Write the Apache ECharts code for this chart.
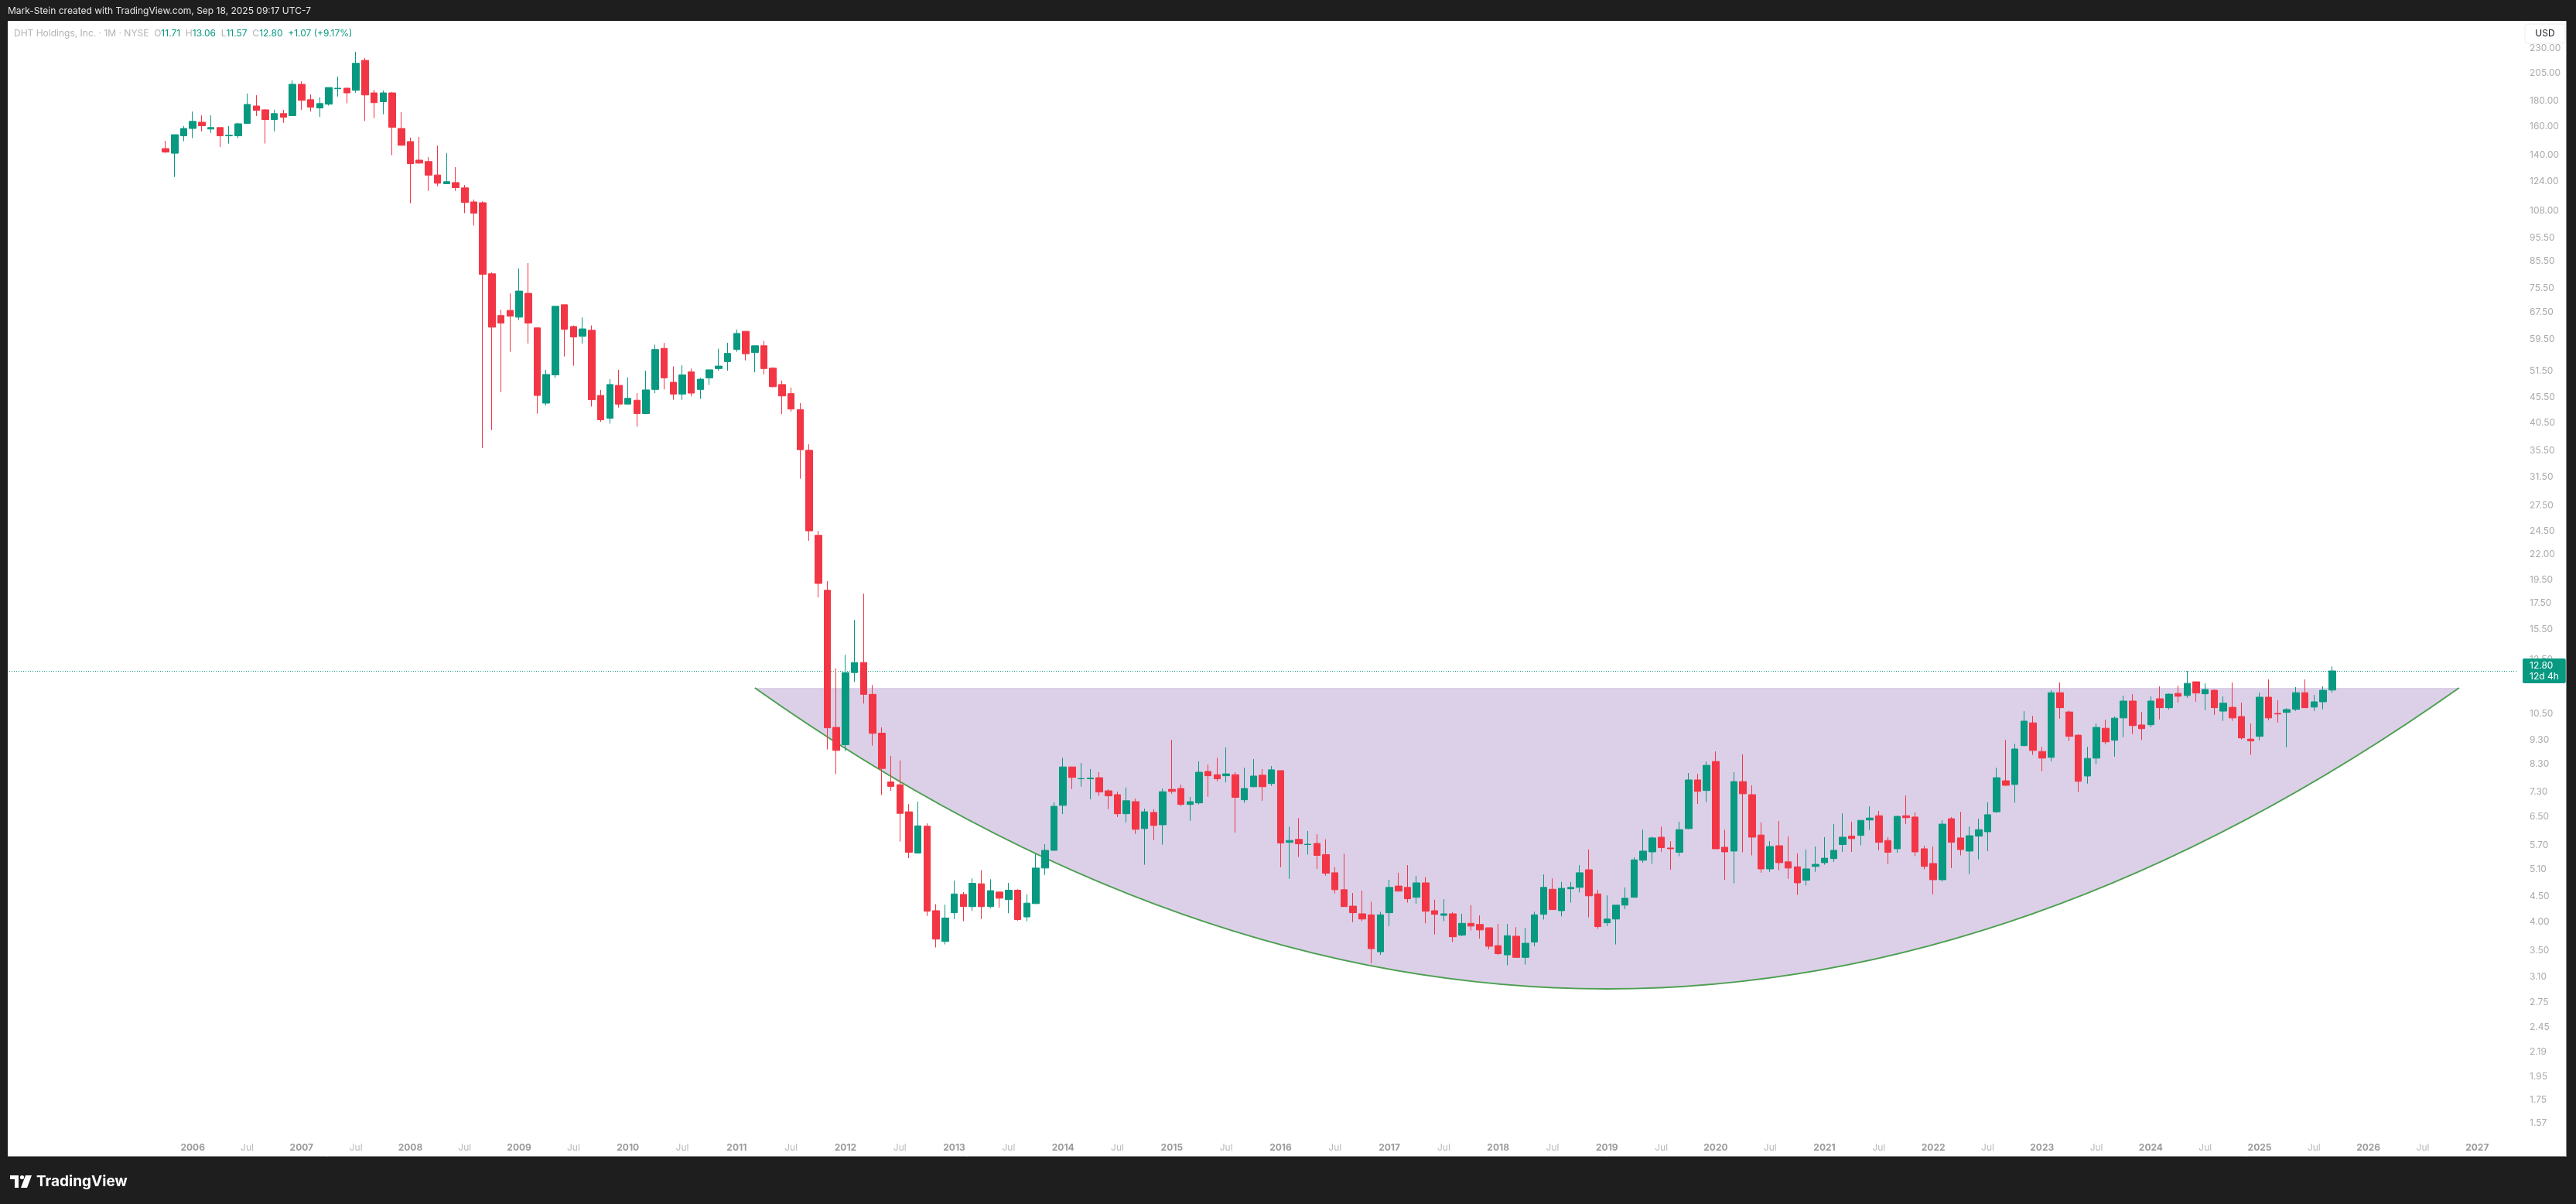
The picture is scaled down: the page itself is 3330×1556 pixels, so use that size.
<!DOCTYPE html>
<html><head><meta charset="utf-8">
<script src="https://cdn.jsdelivr.net/npm/echarts@6/dist/echarts.min.js"></script>
<style>html,body{margin:0;padding:0;background:#1e1e1e;}#c{width:3330px;height:1556px;}</style>
</head><body><div id="c"></div>
<script>
// ---------- data ----------
const axisStart = '2004-05';
const axisEnd = '2027-05';
const candleStart = '2005-10';
const candleEnd = '2025-09';
// monthly candles: [open, high, low, close]
const ohlc = [
[144.2,149.5,141.3,141.9],[141.1,153.8,126.4,153.8],[153.0,160.1,149.2,158.3],
[158.3,171.2,151.3,163.6],[163.0,168.2,156.2,160.3],[157.9,168.2,155.1,159.0],[159.0,159.0,145.2,153.0],[153.0,160.1,147.6,153.4],[153.0,162.5,151.3,161.8],[162.1,186.2,162.1,177.0],[175.7,184.7,167.7,172.1],[172.6,173.1,147.6,165.0],[165.0,172.6,156.2,169.6],[169.6,172.6,162.5,166.8],[168.0,197.8,168.0,194.3],
[194.3,197.0,172.6,180.4],[180.9,185.4,171.2,174.8],[174.1,182.9,167.0,177.7],[177.2,191.4,176.0,191.4],[190.3,201.3,183.6,190.8],[190.8,191.4,177.9,186.7],[189.0,225.9,186.9,214.2],[217.1,219.5,163.9,184.9],[186.7,189.5,166.1,178.4],[179.2,188.8,169.1,186.7],[186.7,187.5,139.9,159.2],[158.3,170.7,146.4,146.4],
[149.0,151.7,111.9,134.5],[136.7,152.2,134.5,134.8],[135.8,138.6,118.5,127.5],[127.6,146.2,121.2,122.8],[122.5,141.3,122.5,123.7],[123.2,132.3,118.5,120.3],[120.2,121.8,106.9,112.3],[112.6,113.9,100.9,106.9],[112.2,112.9,36.0,80.5],[80.7,81.2,39.1,63.0],[66.5,68.3,46.6,64.2],[68.1,73.7,56.2,66.3],
[66.0,82.7,65.1,74.5],[73.7,84.8,58.4,64.2],[62.8,63.0,42.2,45.9],[44.3,51.7,43.8,50.6],[50.5,69.4,49.8,69.4],[69.9,69.9,55.0,62.4],[63.2,63.5,52.7,60.2],[60.4,65.9,58.3,62.5],[62.1,63.5,43.6,45.0],[45.9,47.1,40.6,41.0],[41.3,49.5,40.3,48.3],[48.1,51.7,43.4,44.1],
[44.1,49.9,44.1,45.3],[44.9,46.4,39.7,42.2],[42.2,51.5,42.2,47.1],[47.2,58.1,46.4,56.8],[57.1,58.6,47.2,49.8],[48.8,52.5,45.0,46.2],[46.2,52.8,45.0,50.5],[51.2,52.0,45.7,46.4],[47.2,49.8,45.2,49.5],[49.8,51.7,48.2,51.7],[52.0,57.0,51.5,52.6],[53.7,58.6,51.5,55.8],
[56.8,62.3,56.2,61.2],[61.8,61.8,54.0,55.7],[56.0,57.8,51.1,57.8],[57.8,59.1,50.6,52.0],[52.1,52.3,47.7,47.8],[48.3,49.2,42.1,45.8],[46.3,47.6,42.6,43.1],[43.0,44.3,31.2,35.7],[35.6,36.6,23.4,24.5],[24.0,24.5,18.0,19.2],[18.6,19.4,8.89,9.83],[9.85,12.95,7.93,8.85],
[9.09,13.79,8.82,12.70],[12.70,16.21,12.16,13.31],[13.31,18.31,11.00,11.48],[11.48,11.99,9.05,9.58],[9.59,9.85,7.20,8.14],[7.65,8.63,7.34,7.49],[7.55,8.45,5.80,6.61],[6.66,6.90,5.37,5.52],[5.50,6.98,5.50,6.24],[6.23,6.31,4.11,4.20],[4.21,4.34,3.55,3.69],[3.65,4.33,3.60,4.07],
[4.17,4.84,4.05,4.55],[4.54,4.59,4.01,4.29],[4.29,4.89,4.21,4.78],[4.77,5.08,4.05,4.29],[4.29,4.87,4.26,4.62],[4.59,4.59,4.27,4.46],[4.43,4.79,4.16,4.63],[4.63,4.65,4.02,4.04],[4.09,4.54,4.01,4.36],[4.35,5.49,4.35,5.13],[5.13,5.73,4.97,5.57],[5.57,6.96,5.57,6.83],
[6.86,8.56,6.59,8.20],[8.20,8.20,7.40,7.81],[7.76,8.35,7.48,7.77],[7.76,8.12,7.06,7.79],[7.80,8.00,7.17,7.30],[7.34,7.39,6.74,7.17],[7.21,7.31,6.50,6.60],[6.60,7.45,6.34,7.01],[6.98,7.08,6.01,6.14],[6.16,6.76,5.21,6.66],[6.64,6.74,5.84,6.25],[6.27,7.42,5.72,7.31],
[7.39,9.30,7.24,7.32],[7.42,7.55,6.84,6.89],[6.89,7.13,6.39,6.98],[6.94,8.41,6.89,8.00],[8.03,8.29,7.14,7.87],[7.91,8.56,7.67,7.76],[7.87,8.97,7.64,7.94],[7.91,8.00,6.05,7.12],[7.04,8.17,6.94,7.42],[7.48,8.50,7.46,7.86],[7.89,8.12,7.01,7.48],[7.59,8.23,7.51,8.09],
[8.06,8.06,5.15,5.76],[5.78,6.22,4.88,5.83],[5.86,6.47,5.40,5.74],[5.72,6.09,5.46,5.73],[5.75,6.00,5.11,5.44],[5.46,5.86,4.95,5.01],[5.02,5.15,4.56,4.64],[4.64,5.48,4.29,4.29],[4.30,4.57,3.99,4.17],[4.15,4.62,4.01,4.05],[4.13,4.39,3.30,3.53],[3.48,4.19,3.43,4.13],
[4.17,4.86,3.92,4.69],[4.72,5.02,4.61,4.61],[4.69,5.20,4.37,4.45],[4.48,4.95,4.35,4.79],[4.79,4.92,3.97,4.20],[4.21,4.43,3.77,4.14],[4.12,4.44,4.01,4.15],[4.15,4.18,3.64,3.73],[3.76,4.15,3.74,3.97],[3.97,4.32,3.84,3.92],[3.95,4.12,3.70,3.85],[3.89,3.89,3.52,3.57],
[3.58,3.96,3.43,3.45],[3.43,3.96,3.27,3.75],[3.74,3.90,3.39,3.39],[3.39,3.89,3.28,3.62],[3.64,4.19,3.57,4.13],[4.14,4.98,4.04,4.69],[4.65,4.89,4.23,4.23],[4.21,4.81,4.10,4.67],[4.66,4.81,4.37,4.69],[4.69,5.20,4.58,5.02],[5.09,5.59,4.08,4.51],[4.55,4.64,3.87,3.91],
[3.98,4.52,3.92,4.05],[4.05,4.32,3.60,4.32],[4.32,4.69,4.24,4.46],[4.48,5.39,4.48,5.33],[5.32,6.13,5.26,5.55],[5.53,5.94,5.23,5.90],[5.92,6.22,5.53,5.64],[5.63,5.81,5.09,5.61],[5.52,6.36,5.42,6.13],[6.16,7.97,6.14,7.72],[7.72,7.94,6.91,7.32],[7.35,8.41,6.96,8.26],
[8.41,8.81,5.61,5.61],[5.65,6.13,4.86,5.53],[5.55,8.00,4.78,7.66],[7.66,8.69,5.52,7.24],[7.21,7.53,5.44,5.92],[5.98,6.34,5.02,5.11],[5.11,5.81,5.04,5.67],[5.69,6.38,5.08,5.26],[5.28,5.94,4.88,5.13],[5.16,5.49,4.53,4.79],[4.85,5.59,4.73,5.11],[5.17,5.67,5.04,5.22],
[5.26,5.92,5.21,5.37],[5.36,6.29,5.28,5.57],[5.72,6.61,5.53,5.92],[5.95,6.36,5.53,5.88],[5.97,6.40,5.70,6.40],[6.41,6.83,6.12,6.47],[6.54,6.69,5.57,5.78],[5.83,5.92,5.23,5.52],[5.61,6.54,5.51,6.52],[6.54,7.18,6.29,6.48],[6.50,6.64,5.42,5.53],[5.61,5.69,5.10,5.17],
[5.24,5.67,4.54,4.86],[4.86,6.40,4.82,6.29],[6.45,6.50,5.13,5.78],[5.90,6.66,5.44,5.59],[5.55,6.22,4.99,5.96],[5.95,6.45,5.34,6.13],[6.07,6.96,5.55,6.57],[6.66,8.17,6.62,7.80],[7.69,9.30,7.51,7.53],[7.56,9.13,6.95,8.91],[9.05,10.62,9.02,10.14],[10.06,10.39,8.67,8.85],
[8.81,9.00,8.04,8.54],[8.57,11.70,8.42,11.57],[11.57,12.13,10.26,10.79],[10.58,10.66,9.25,9.45],[9.50,9.54,7.30,7.67],[7.86,9.00,7.59,8.53],[8.54,10.03,8.30,9.85],[9.81,10.21,9.11,9.21],[9.28,10.36,8.60,10.28],[10.29,11.41,9.41,11.13],[11.13,11.49,9.55,9.93],[9.96,10.58,9.28,9.79],
[9.97,11.37,9.86,11.13],[11.25,11.91,10.22,10.79],[10.79,11.53,10.70,11.49],[11.53,11.95,11.05,11.38],[11.42,12.80,11.30,12.08],[12.17,12.17,11.10,11.55],[11.51,12.08,10.67,11.74],[11.70,11.74,10.44,10.79],[10.62,11.37,10.15,11.02],[10.81,12.13,10.15,10.29],[10.36,11.05,9.31,9.38],[9.33,10.03,8.67,9.25],
[9.45,11.57,9.28,11.33],[11.33,12.30,10.18,10.29],[10.51,11.17,10.07,10.48],[10.56,10.77,8.98,10.70],[10.71,11.87,10.63,11.57],[11.57,12.30,10.79,10.79],[10.82,11.45,10.63,11.09],[11.09,11.91,10.71,11.70],[11.71,13.06,11.57,12.80]
];
const priceTicks = [230,205,180,160,140,124,108,95.5,85.5,75.5,67.5,59.5,51.5,45.5,40.5,35.5,31.5,27.5,24.5,22,19.5,17.5,15.5,13.5,10.5,9.3,8.3,7.3,6.5,5.7,5.1,4.5,4.0,3.5,3.1,2.75,2.45,2.19,1.95,1.75,1.57];
const yMin = 1.487, yMax = 260.7;
const lastClose = 12.80;
const countdown = '12d 4h';
// cup (arc drawing): anchor points
const cupStart = '2011-03', cupBottom = '2019-01', cupEnd = '2026-11';
const cupTop = 11.83, cupLow = 2.93;
const headerText = 'Mark-Stein created with TradingView.com, Sep 18, 2025 09:17 UTC-7';
const symbolText = 'DHT Holdings, Inc. · 1M · NYSE';
const legendO = '11.71', legendH = '13.06', legendL = '11.57', legendC = '12.80', legendChg = '+1.07 (+9.17%)';

// ---------- helpers ----------
function monthSeq(a, b) {
  let [y, m] = a.split('-').map(Number);
  const [yb, mb] = b.split('-').map(Number);
  const out = [];
  while (y < yb || (y === yb && m <= mb)) {
    out.push(y + '-' + String(m).padStart(2, '0'));
    m++; if (m > 12) { m = 1; y++; }
  }
  return out;
}
const months = monthSeq(axisStart, axisEnd);
const candleMonths = monthSeq(candleStart, candleEnd);
const candleData = ohlc.map((r, i) => [candleMonths[i], r[0], r[3], r[2], r[1]]);

const UP = '#089981', DOWN = '#F23645';
const FONT = 'Inter, Roboto, sans-serif';

const chart = echarts.init(document.getElementById('c'), null, {renderer: 'canvas'});
chart.setOption({
  animation: false,
  backgroundColor: '#ffffff',
  textStyle: {fontFamily: FONT},
  grid: {left: 9, right: 75, top: 27, bottom: 89, outerBoundsMode: 'none'},
  xAxis: {
    type: 'category', data: months, boundaryGap: true,
    axisLine: {show: false}, axisTick: {show: false}, splitLine: {show: false},
    axisLabel: {
      margin: 10,
      interval: (i, v) => v >= candleStart && (v.endsWith('-01') || v.endsWith('-07')),
      formatter: v => v.endsWith('-01') ? '{y|' + v.slice(0, 4) + '}' : '{m|Jul}',
      rich: {
        y: {fontSize: 12, fontWeight: 'bold', color: '#9a9a9a', fontFamily: FONT},
        m: {fontSize: 12, color: '#b8b8b8', fontFamily: FONT}
      }
    }
  },
  yAxis: {
    type: 'log', logBase: 10, position: 'right', min: yMin, max: yMax,
    axisLine: {show: false}, axisTick: {show: false}, splitLine: {show: false}, minorTick: {show: false},
    axisLabel: {
      customValues: priceTicks, margin: 15, fontSize: 12, color: '#ababab', fontFamily: FONT,
      formatter: v => Number(v).toFixed(2)
    }
  },
  series: [
    {
      type: 'custom', z: 1, silent: true, clip: false,
      data: [[cupStart, cupTop]],
      renderItem: function (params, api) {
        const s = api.coord([months.indexOf(cupStart), cupTop]);
        const b = api.coord([months.indexOf(cupBottom), cupLow]);
        const e = api.coord([months.indexOf(cupEnd), cupTop]);
        const cx = 2 * b[0] - (s[0] + e[0]) / 2;
        const cy = 2 * b[1] - (s[1] + e[1]) / 2;
        const d = 'M' + s[0] + ' ' + s[1] + ' Q' + cx + ' ' + cy + ' ' + e[0] + ' ' + e[1];
        return {type: 'group', children: [
          {type: 'path', shape: {pathData: d + ' Z'}, style: {fill: '#dcd0e8', stroke: null}},
          {type: 'path', shape: {pathData: d}, style: {fill: null, stroke: '#4c9f50', lineWidth: 2}}
        ]};
      }
    },
    {
      type: 'candlestick', z: 3,
      data: candleData,
      encode: {x: 0, y: [1, 2, 3, 4]},
      barWidth: 9,
      itemStyle: {color: UP, color0: DOWN, borderColor: UP, borderColor0: DOWN, borderWidth: 1},
      markLine: {
        silent: true, symbol: 'none', z: 2,
        data: [{yAxis: lastClose}],
        lineStyle: {color: UP, type: [1, 2], width: 1},
        label: {
          show: true, position: 'end', distance: 6,
          formatter: lastClose.toFixed(2) + '\n' + countdown,
          color: '#ffffff', backgroundColor: UP, padding: [2, 9, 2, 9], borderRadius: 2,
          fontSize: 12, lineHeight: 14, fontFamily: FONT
        },
        emphasis: {disabled: true}
      }
    }
  ],
  graphic: [
    {type: 'rect', z: 50, shape: {x: 0, y: 0, width: 3330, height: 27}, style: {fill: '#1e1e1e'}},
    {type: 'rect', z: 50, shape: {x: 0, y: 1495, width: 3330, height: 61}, style: {fill: '#1e1e1e'}},
    {type: 'rect', z: 50, shape: {x: 0, y: 0, width: 10, height: 1556}, style: {fill: '#1e1e1e'}},
    {type: 'rect', z: 50, shape: {x: 3318, y: 0, width: 12, height: 1556}, style: {fill: '#1e1e1e'}},
    {type: 'line', z: 51, shape: {x1: 3317.5, y1: 27, x2: 3317.5, y2: 1495}, style: {stroke: '#8a8a8a', lineWidth: 1}},
    {type: 'line', z: 51, shape: {x1: 10, y1: 1494.5, x2: 3318, y2: 1494.5}, style: {stroke: '#8a8a8a', lineWidth: 1}},
    {type: 'text', z: 60, x: 10, y: 14, style: {text: headerText, fill: '#e6e6e6', font: '12px ' + FONT, verticalAlign: 'middle'}},
    {type: 'text', z: 60, x: 18, y: 43, style: {
      text: '{n|' + symbolText + '  O}{v|' + legendO + '}{n|  H}{v|' + legendH + '}{n|  L}{v|' + legendL + '}{n|  C}{v|' + legendC + '}{v|  ' + legendChg + '}',
      verticalAlign: 'middle',
      rich: {n: {fill: '#b2b2b2', font: '12px ' + FONT}, v: {fill: UP, font: '12px ' + FONT}}
    }},
    {type: 'rect', z: 60, shape: {x: 3264, y: 31, width: 52, height: 25, r: 4}, style: {fill: '#ffffff', stroke: '#ececec', lineWidth: 1}},
    {type: 'text', z: 61, x: 3290, y: 43.5, style: {text: 'USD', fill: '#131722', font: '12px ' + FONT, align: 'center', verticalAlign: 'middle'}},
    // TradingView logo
    {type: 'polygon', z: 60, shape: {points: [[13, 1519], [24, 1519], [24, 1535], [19, 1535], [19, 1524], [13, 1524]]}, style: {fill: '#ffffff'}},
    {type: 'circle', z: 60, shape: {cx: 28.5, cy: 1521.5, r: 2.6}, style: {fill: '#ffffff'}},
    {type: 'polygon', z: 60, shape: {points: [[33, 1519], [41, 1519], [35, 1535], [27, 1535]]}, style: {fill: '#ffffff'}},
    {type: 'text', z: 60, x: 47, y: 1527, style: {text: 'TradingView', fill: '#ffffff', font: 'bold 19px ' + FONT, verticalAlign: 'middle'}}
  ]
});
</script></body></html>
